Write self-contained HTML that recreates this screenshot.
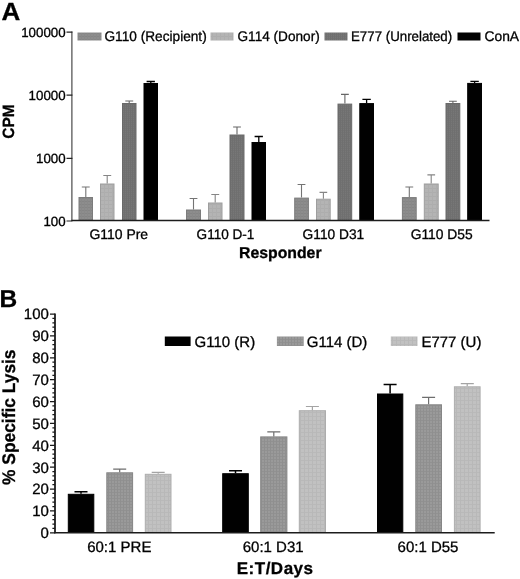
<!DOCTYPE html>
<html lang="en"><head><meta charset="utf-8"><title>Figure</title>
<style>html,body{margin:0;padding:0;background:#fff}svg{display:block;will-change:transform;opacity:0.999}text{font-family:'Liberation Sans', Arial, Helvetica, sans-serif;fill:#000;text-rendering:geometricPrecision;stroke:#000;stroke-width:0.3px}.b{font-weight:bold}</style></head><body>
<svg width="520" height="579" viewBox="0 0 520 579">
<defs>
<pattern id="pA1" width="3" height="3" patternUnits="userSpaceOnUse"><rect width="3" height="3" fill="#8d8d8d"/><rect width="3" height="1" fill="#858585"/><rect width="1" height="3" fill="#898989"/></pattern>
<pattern id="pA2" width="4" height="4" patternUnits="userSpaceOnUse"><rect width="4" height="4" fill="#b4b4b4"/><rect width="4" height="1" fill="#adadad"/><rect width="1" height="4" fill="#aeaeae"/></pattern>
<pattern id="pA3" width="2" height="2" patternUnits="userSpaceOnUse"><rect width="2" height="2" fill="#777777"/><rect width="2" height="1" fill="#727272"/><rect width="1" height="2" fill="#6f6f6f"/></pattern>
<pattern id="pB2" width="3" height="3" patternUnits="userSpaceOnUse"><rect width="3" height="3" fill="#9a9a9a"/><rect width="3" height="1" fill="#919191"/><rect width="1" height="3" fill="#8f8f8f"/></pattern>
<pattern id="pB3" width="4" height="4" patternUnits="userSpaceOnUse"><rect width="4" height="4" fill="#c1c1c1"/><rect width="4" height="1" fill="#b9b9b9"/><rect width="1" height="4" fill="#b8b8b8"/></pattern>
</defs>
<rect width="520" height="579" fill="#fff"/>
<text class="b" x="1.4" y="19.6" font-size="24.9" textLength="18.8" lengthAdjust="spacingAndGlyphs">A</text>
<rect x="79.0" y="197.5" width="13.5" height="23.0" fill="url(#pA1)" stroke="#7c7c7c" stroke-width="1"/>
<path d="M85.8 197.0V187.0M81.8 187.0H89.7" stroke="#747474" stroke-width="1.1" fill="none"/>
<rect x="100.5" y="184.0" width="13.5" height="36.5" fill="url(#pA2)" stroke="#9e9e9e" stroke-width="1"/>
<path d="M107.2 183.5V175.5M103.3 175.5H111.2" stroke="#858585" stroke-width="1.1" fill="none"/>
<rect x="122.5" y="103.5" width="13.5" height="117.0" fill="url(#pA3)" stroke="#6a6a6a" stroke-width="1"/>
<path d="M129.2 103.0V101.0M125.3 101.0H133.2" stroke="#666" stroke-width="1.1" fill="none"/>
<rect x="144.0" y="83.5" width="13.5" height="137.0" fill="#000" stroke="#000" stroke-width="1"/>
<path d="M150.8 83.0V81.5M146.6 81.5H154.9" stroke="#000" stroke-width="1.3" fill="none"/>
<rect x="186.5" y="210.0" width="14.0" height="10.5" fill="url(#pA1)" stroke="#7c7c7c" stroke-width="1"/>
<path d="M193.5 209.5V198.5M189.6 198.5H197.4" stroke="#747474" stroke-width="1.1" fill="none"/>
<rect x="208.5" y="203.0" width="13.5" height="17.5" fill="url(#pA2)" stroke="#9e9e9e" stroke-width="1"/>
<path d="M215.2 202.5V194.5M211.3 194.5H219.2" stroke="#858585" stroke-width="1.1" fill="none"/>
<rect x="230.0" y="135.0" width="14.0" height="85.5" fill="url(#pA3)" stroke="#6a6a6a" stroke-width="1"/>
<path d="M237.0 134.5V127.0M233.1 127.0H240.9" stroke="#666" stroke-width="1.1" fill="none"/>
<rect x="252.0" y="142.5" width="13.5" height="78.0" fill="#000" stroke="#000" stroke-width="1"/>
<path d="M258.8 142.0V136.5M254.6 136.5H262.9" stroke="#000" stroke-width="1.3" fill="none"/>
<rect x="294.7" y="198.1" width="13.7" height="22.4" fill="url(#pA1)" stroke="#7c7c7c" stroke-width="1"/>
<path d="M301.5 197.6V184.5M297.6 184.5H305.4" stroke="#747474" stroke-width="1.1" fill="none"/>
<rect x="316.5" y="199.2" width="13.7" height="21.3" fill="url(#pA2)" stroke="#9e9e9e" stroke-width="1"/>
<path d="M323.4 198.7V192.4M319.5 192.4H327.2" stroke="#858585" stroke-width="1.1" fill="none"/>
<rect x="338.0" y="104.1" width="13.7" height="116.4" fill="url(#pA3)" stroke="#6a6a6a" stroke-width="1"/>
<path d="M344.9 103.6V94.4M341.0 94.4H348.8" stroke="#666" stroke-width="1.1" fill="none"/>
<rect x="359.8" y="103.6" width="13.7" height="116.9" fill="#000" stroke="#000" stroke-width="1"/>
<path d="M366.6 103.1V99.4M362.4 99.4H370.8" stroke="#000" stroke-width="1.3" fill="none"/>
<rect x="402.4" y="197.6" width="13.8" height="22.9" fill="url(#pA1)" stroke="#7c7c7c" stroke-width="1"/>
<path d="M409.3 197.1V187.0M405.4 187.0H413.2" stroke="#747474" stroke-width="1.1" fill="none"/>
<rect x="424.3" y="184.0" width="13.9" height="36.5" fill="url(#pA2)" stroke="#9e9e9e" stroke-width="1"/>
<path d="M431.2 183.5V174.9M427.4 174.9H435.1" stroke="#858585" stroke-width="1.1" fill="none"/>
<rect x="446.0" y="103.5" width="13.8" height="117.0" fill="url(#pA3)" stroke="#6a6a6a" stroke-width="1"/>
<path d="M452.9 103.0V101.3M449.0 101.3H456.8" stroke="#666" stroke-width="1.1" fill="none"/>
<rect x="467.7" y="83.4" width="13.8" height="137.1" fill="#000" stroke="#000" stroke-width="1"/>
<path d="M474.6 82.9V81.4M470.4 81.4H478.8" stroke="#000" stroke-width="1.3" fill="none"/>
<path d="M71.9 31.6V221" stroke="#3a3a3a" stroke-width="1.1" fill="none"/>
<path d="M66.5 32.2H72.4M66.5 95.2H72.4M66.5 158.4H72.4M66.5 221H72.4" stroke="#222" stroke-width="1.2" fill="none"/>
<path d="M71.4 220.5H489.5" stroke="#1c1c1c" stroke-width="1.7" fill="none"/>
<text x="65.6" y="36.9" font-size="13.3" text-anchor="end">100000</text>
<text x="65.6" y="99.9" font-size="13.3" text-anchor="end">10000</text>
<text x="65.6" y="162.9" font-size="13.3" text-anchor="end">1000</text>
<text x="65.6" y="225.9" font-size="13.3" text-anchor="end">100</text>
<rect x="77.5" y="32.5" width="24.0" height="8" fill="url(#pA1)"/>
<text x="104.5" y="41" font-size="14" textLength="102.2" lengthAdjust="spacingAndGlyphs">G110 (Recipient)</text>
<rect x="210.5" y="32.5" width="23.0" height="8" fill="url(#pA2)"/>
<text x="237.5" y="41" font-size="14" textLength="82.2" lengthAdjust="spacingAndGlyphs">G114 (Donor)</text>
<rect x="324.5" y="32.5" width="23.0" height="8" fill="url(#pA3)"/>
<text x="351.0" y="41" font-size="14" textLength="101.2" lengthAdjust="spacingAndGlyphs">E777 (Unrelated)</text>
<rect x="457.5" y="32.5" width="23.0" height="8" fill="#000"/>
<text x="484.5" y="41" font-size="14" textLength="34.6" lengthAdjust="spacingAndGlyphs">ConA</text>
<text x="118.8" y="239.2" font-size="13.8" textLength="58.6" lengthAdjust="spacingAndGlyphs" text-anchor="middle">G110 Pre</text>
<text x="225.5" y="239.2" font-size="13.8" textLength="57.8" lengthAdjust="spacingAndGlyphs" text-anchor="middle">G110 D-1</text>
<text x="333.4" y="239.2" font-size="13.8" textLength="61.6" lengthAdjust="spacingAndGlyphs" text-anchor="middle">G110 D31</text>
<text x="441.7" y="239.2" font-size="13.8" textLength="62.0" lengthAdjust="spacingAndGlyphs" text-anchor="middle">G110 D55</text>
<text class="b" x="280.3" y="258.3" font-size="15.8" text-anchor="middle">Responder</text>
<text class="b" transform="translate(14.0 121.5) rotate(-90)" font-size="16.3" textLength="34.3" lengthAdjust="spacingAndGlyphs" text-anchor="middle">CPM</text>
<text class="b" x="-0.6" y="306.7" font-size="24.5">B</text>
<rect x="68.3" y="494.3" width="25.5" height="38.0" fill="#000" stroke="#000" stroke-width="1"/>
<path d="M81.0 493.8V491.7M74.5 491.7H87.5" stroke="#000" stroke-width="1.5" fill="none"/>
<rect x="106.8" y="472.8" width="25.8" height="59.5" fill="url(#pB2)" stroke="#868686" stroke-width="1"/>
<path d="M119.7 472.3V469.2M113.2 469.2H126.2" stroke="#6e6e6e" stroke-width="1.2" fill="none"/>
<rect x="145.3" y="474.3" width="25.7" height="58.0" fill="url(#pB3)" stroke="#adadad" stroke-width="1"/>
<path d="M158.2 473.8V472.3M151.7 472.3H164.7" stroke="#a4a4a4" stroke-width="1.2" fill="none"/>
<rect x="222.7" y="473.7" width="25.6" height="58.6" fill="#000" stroke="#000" stroke-width="1"/>
<path d="M235.5 473.2V470.7M229.0 470.7H242.0" stroke="#000" stroke-width="1.5" fill="none"/>
<rect x="260.7" y="436.9" width="26.2" height="95.4" fill="url(#pB2)" stroke="#868686" stroke-width="1"/>
<path d="M273.8 436.4V431.8M267.3 431.8H280.3" stroke="#6e6e6e" stroke-width="1.2" fill="none"/>
<rect x="299.3" y="410.7" width="26.2" height="121.6" fill="url(#pB3)" stroke="#adadad" stroke-width="1"/>
<path d="M312.4 410.2V406.5M305.9 406.5H318.9" stroke="#a4a4a4" stroke-width="1.2" fill="none"/>
<rect x="377.5" y="394.0" width="25.3" height="138.3" fill="#000" stroke="#000" stroke-width="1"/>
<path d="M390.1 393.5V384.4M383.6 384.4H396.6" stroke="#000" stroke-width="1.5" fill="none"/>
<rect x="415.8" y="404.8" width="25.7" height="127.5" fill="url(#pB2)" stroke="#868686" stroke-width="1"/>
<path d="M428.6 404.3V397.4M422.1 397.4H435.1" stroke="#6e6e6e" stroke-width="1.2" fill="none"/>
<rect x="454.4" y="386.8" width="25.7" height="145.5" fill="url(#pB3)" stroke="#adadad" stroke-width="1"/>
<path d="M467.2 386.3V383.7M460.8 383.7H473.8" stroke="#a4a4a4" stroke-width="1.2" fill="none"/>
<path d="M55.0 313.5V533.3" stroke="#1c1c1c" stroke-width="1.8" fill="none"/>
<path d="M50 532.80H55M52.4 528.43H55M52.4 524.05H55M52.4 519.68H55M52.4 515.30H55M50 510.93H55M52.4 506.56H55M52.4 502.18H55M52.4 497.81H55M52.4 493.43H55M50 489.06H55M52.4 484.69H55M52.4 480.31H55M52.4 475.94H55M52.4 471.56H55M50 467.19H55M52.4 462.82H55M52.4 458.44H55M52.4 454.07H55M52.4 449.69H55M50 445.32H55M52.4 440.95H55M52.4 436.57H55M52.4 432.20H55M52.4 427.82H55M50 423.45H55M52.4 419.08H55M52.4 414.70H55M52.4 410.33H55M52.4 405.95H55M50 401.58H55M52.4 397.21H55M52.4 392.83H55M52.4 388.46H55M52.4 384.08H55M50 379.71H55M52.4 375.34H55M52.4 370.96H55M52.4 366.59H55M52.4 362.21H55M50 357.84H55M52.4 353.47H55M52.4 349.09H55M52.4 344.72H55M52.4 340.34H55M50 335.97H55M52.4 331.60H55M52.4 327.22H55M52.4 322.85H55M52.4 318.47H55M50 314.10H55" stroke="#1a1a1a" stroke-width="1.25" fill="none"/>
<path d="M54.2 532.7H494.7" stroke="#1c1c1c" stroke-width="1.6" fill="none"/>
<text x="48.9" y="538.1" font-size="15" text-anchor="end">0</text>
<text x="48.9" y="516.2" font-size="15" text-anchor="end">10</text>
<text x="48.9" y="494.4" font-size="15" text-anchor="end">20</text>
<text x="48.9" y="472.5" font-size="15" text-anchor="end">30</text>
<text x="48.9" y="450.6" font-size="15" text-anchor="end">40</text>
<text x="48.9" y="428.8" font-size="15" text-anchor="end">50</text>
<text x="48.9" y="406.9" font-size="15" text-anchor="end">60</text>
<text x="48.9" y="385.0" font-size="15" text-anchor="end">70</text>
<text x="48.9" y="363.1" font-size="15" text-anchor="end">80</text>
<text x="48.9" y="341.3" font-size="15" text-anchor="end">90</text>
<text x="48.9" y="319.4" font-size="15" text-anchor="end">100</text>
<rect x="164.8" y="336.5" width="25.8" height="9.5" fill="#000"/>
<text x="194.6" y="346.5" font-size="15">G110 (R)</text>
<rect x="276.9" y="336.5" width="26.8" height="9.5" fill="url(#pB2)"/>
<text x="306.8" y="346.5" font-size="15">G114 (D)</text>
<rect x="390.8" y="336.5" width="26.7" height="9.5" fill="url(#pB3)"/>
<text x="421.4" y="346.5" font-size="15">E777 (U)</text>
<text x="119.3" y="552.4" font-size="15" text-anchor="middle">60:1 PRE</text>
<text x="273.2" y="552.4" font-size="15" text-anchor="middle">60:1 D31</text>
<text x="428.0" y="552.4" font-size="15" text-anchor="middle">60:1 D55</text>
<text class="b" x="274.9" y="573.5" font-size="17" textLength="76.3" lengthAdjust="spacing" text-anchor="middle">E:T/Days</text>
<text class="b" transform="translate(14.7 417.2) rotate(-90)" font-size="18.2" textLength="135.4" lengthAdjust="spacingAndGlyphs" text-anchor="middle">% Specific Lysis</text>
</svg></body></html>
